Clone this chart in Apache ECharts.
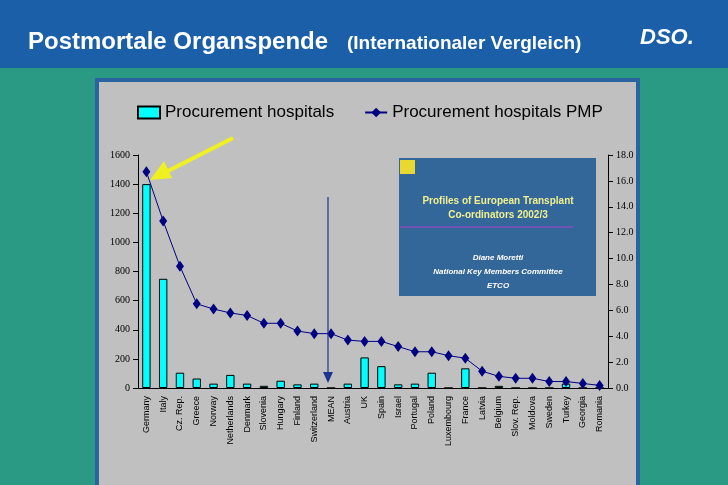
<!DOCTYPE html>
<html><head><meta charset="utf-8">
<script src="https://cdn.jsdelivr.net/npm/echarts@6/dist/echarts.min.js"></script>
<style>html,body{margin:0;padding:0;background:#2a9a84;}#c{width:728px;height:485px;}</style>
</head><body><div id="c"></div>
<script>
const categories=["Germany","Italy","Cz. Rep.","Greece","Norway","Netherlands","Denmark","Slovenia","Hungary","Finland","Switzerland","MEAN","Austria","UK","Spain","Israel","Portugal","Poland","Luxembourg","France","Latvia","Belgium","Slov. Rep.","Moldova","Sweden","Turkey","Georgia","Romania"];
const hospitals=[1400,750,105,65,30,90,30,15,50,25,30,0,30,210,150,25,30,105,0,135,0,15,0,0,0,30,0,0];
const pmp=[16.7,12.9,9.4,6.5,6.1,5.8,5.6,5.0,5.0,4.4,4.2,4.2,3.7,3.6,3.6,3.2,2.8,2.8,2.5,2.3,1.3,0.9,0.75,0.75,0.5,0.5,0.35,0.2];
const leftTicks=[0,1600,200];
const rightTicks=[0,18,2];
const ch=echarts.init(document.getElementById('c'));
ch.setOption({
 backgroundColor:'#2a9a84',
 animation:false,
 graphic:[
  {type:'rect',x:0,y:0,shape:{width:728,height:68},style:{fill:'#1a5fa8'},z:-10},
  {type:'text',x:28,y:42,style:{text:'Postmortale Organspende',fill:'#fff',font:'bold 24px Liberation Sans',verticalAlign:'middle'}},
  {type:'text',x:347,y:44,style:{text:'(Internationaler Vergleich)',fill:'#fff',font:'bold 19px Liberation Sans',verticalAlign:'middle'}},
  {type:'text',x:640,y:38,style:{text:'DSO.',fill:'#fff',font:'bold italic 22px Liberation Sans',verticalAlign:'middle'}},
  {type:'rect',x:97,y:80,shape:{width:541,height:410},style:{fill:'#c0c0c0',stroke:'#2a64a0',lineWidth:4},z:-5},
  {type:'rect',x:399,y:158,shape:{width:197,height:138},style:{fill:'#336699'},z:5},
  {type:'rect',x:400,y:160,shape:{width:15,height:14},style:{fill:'#e8d830'},z:6},
  {type:'text',x:498,y:208,style:{text:'Profiles of European Transplant\nCo-ordinators 2002/3',fill:'#f0f090',font:'bold 10px Liberation Sans',align:'center',verticalAlign:'middle',lineHeight:14},z:6},
  {type:'line',shape:{x1:400,y1:227,x2:573,y2:227},style:{stroke:'#b040d0',lineWidth:1},z:6},
  {type:'text',x:498,y:272,style:{text:'Diane Moretti\nNational Key Members Committee\nETCO',fill:'#fff',font:'italic bold 8px Liberation Sans',align:'center',verticalAlign:'middle',lineHeight:14},z:6},
  {type:'line',shape:{x1:233,y1:138,x2:162,y2:174},style:{stroke:'#f0f020',lineWidth:4},z:7},
  {type:'polygon',shape:{points:[[150,180],[164,161],[172,178]]},style:{fill:'#f0f020'},z:7},
  {type:'line',shape:{x1:328,y1:197,x2:328,y2:375},style:{stroke:'#1a3590',lineWidth:1.2},z:7},
  {type:'polygon',shape:{points:[[323,372],[333,372],[328,383]]},style:{fill:'#1a3590'},z:7}
 ],
 legend:{top:99,left:132,itemGap:30,itemWidth:22,itemHeight:12,textStyle:{fontSize:17,color:'#000',fontFamily:'Liberation Sans'},
  data:[{name:'Procurement hospitals',icon:'rect'},'Procurement hospitals PMP']},
 grid:{left:138,right:120,top:155,bottom:97},
 xAxis:{type:'category',data:categories,axisLine:{lineStyle:{color:'#000'}},axisTick:{interval:0,lineStyle:{color:'#000'}},
  axisLabel:{interval:0,rotate:90,fontSize:9,color:'#000',fontFamily:'Liberation Sans'}},
 yAxis:[
  {type:'value',min:leftTicks[0],max:leftTicks[1],interval:leftTicks[2],splitLine:{show:false},axisLine:{show:true,lineStyle:{color:'#000'}},axisTick:{show:true},
   axisLabel:{fontSize:10,color:'#000',fontFamily:'Liberation Serif',formatter:v=>String(v)}},
  {type:'value',min:rightTicks[0],max:rightTicks[1],interval:rightTicks[2],splitLine:{show:false},axisLine:{show:true,lineStyle:{color:'#000'}},axisTick:{show:true},
   axisLabel:{fontSize:10,color:'#000',fontFamily:'Liberation Serif',formatter:v=>v.toFixed(1)}}
 ],
 series:[
  {name:'Procurement hospitals',type:'bar',data:hospitals,barWidth:'50%',itemStyle:{color:'#00ffff',borderColor:'#000',borderWidth:1}},
  {name:'Procurement hospitals PMP',type:'line',yAxisIndex:1,data:pmp,symbol:'diamond',symbolSize:[8,11],lineStyle:{color:'#000080',width:1},itemStyle:{color:'#000080'}}
 ]
});
</script></body></html>
